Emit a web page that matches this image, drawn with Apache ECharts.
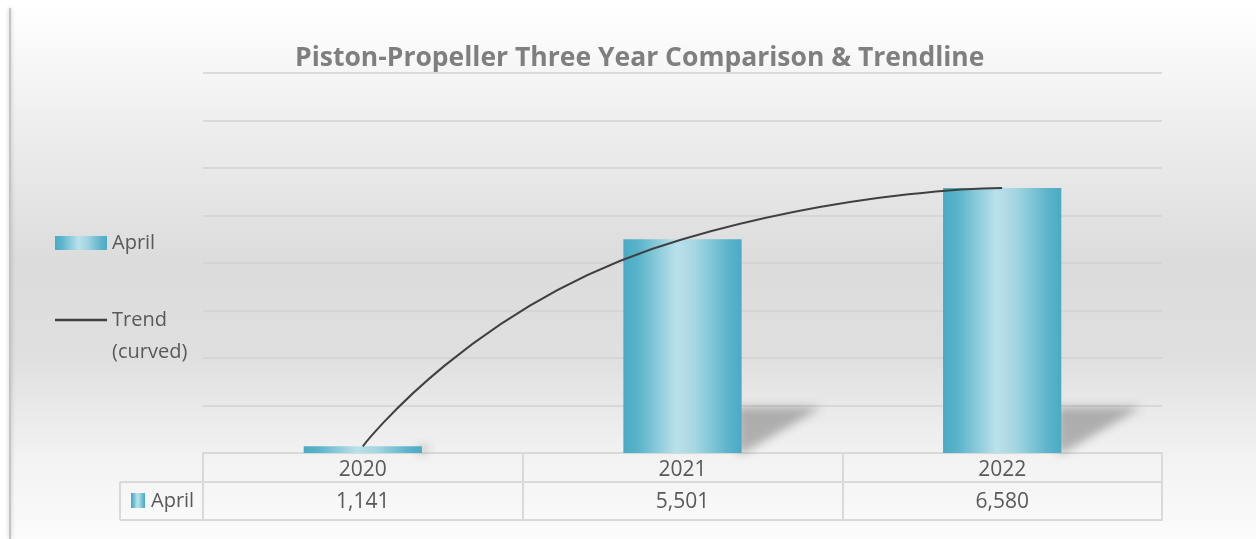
<!DOCTYPE html>
<html>
<head>
<meta charset="utf-8">
<script src="https://cdn.jsdelivr.net/npm/echarts@6/dist/echarts.min.js"></script>
<style>
  html, body { margin: 0; padding: 0; background: #fff; }
  #chart { width: 1256px; height: 539px; }
</style>
</head>
<body>
<div id="chart"></div>
<script>
var years = ["2020", "2021", "2022"];
var aprilValues = [1141, 5501, 6580];
var yMin = 1000;
var yMax = 9000;
var yStep = 1000;

var textColor = "#595959";
var tableLine = "#d9d9d9";
var fontFamily = "'Open Sans', 'Noto Sans', sans-serif";

// cylinder-like horizontal gradient of the bars
var barGradient = new echarts.graphic.LinearGradient(0, 0, 1, 0, [
  { offset: 0, color: "#4aabc4" },
  { offset: 0.12, color: "#58b3ca" },
  { offset: 0.45, color: "#bae1eb" },
  { offset: 0.62, color: "#a3d5e1" },
  { offset: 0.88, color: "#5db5cb" },
  { offset: 1, color: "#4aabc4" }
]);

function fmt(v) {
  return v.toLocaleString("en-US");
}

var myChart = echarts.init(document.getElementById("chart"));

var option = {
  backgroundColor: "#ffffff",
  animation: false,
  title: {
    text: "Piston-Propeller Three Year Comparison & Trendline",
    left: 290,
    top: 40,
    textStyle: {
      fontFamily: fontFamily,
      fontSize: 26.5,
      fontWeight: "bold",
      color: "#7f7f7f"
    }
  },
  legend: {
    orient: "vertical",
    left: 55,
    top: 227,
    padding: 0,
    itemWidth: 52,
    itemHeight: 14,
    itemGap: 13,
    data: [
      { name: "April", icon: "rect" },
      { name: "Trend (curved)", icon: "path://M0,0 L52,0 L52,2.5 L0,2.5 Z" }
    ],
    // empty first line keeps "Trend" level with the line icon
    formatter: function (name) {
      return name === "Trend (curved)" ? "\nTrend\n(curved)" : name;
    },
    textStyle: {
      fontFamily: fontFamily,
      fontSize: 20,
      color: textColor,
      lineHeight: 32
    }
  },
  grid: {
    left: 203,
    right: 94,
    top: 73,
    bottom: 86
  },
  xAxis: [
    {
      type: "category",
      data: years,
      position: "bottom",
      axisLine: { show: true, lineStyle: { color: tableLine, width: 2 } },
      axisTick: { show: true, length: 67, lineStyle: { color: tableLine, width: 2 } },
      axisLabel: {
        margin: 7,
        fontFamily: fontFamily,
        fontSize: 21,
        color: textColor
      }
    },
    {
      type: "category",
      data: aprilValues.map(fmt),
      position: "bottom",
      offset: 29,
      axisLine: { show: true, lineStyle: { color: tableLine, width: 2 } },
      axisTick: { show: false },
      axisLabel: {
        margin: 10,
        fontFamily: fontFamily,
        fontSize: 21,
        color: textColor
      }
    },
    {
      type: "category",
      data: years,
      position: "bottom",
      offset: 67,
      axisLine: { show: true, lineStyle: { color: tableLine, width: 2 } },
      axisTick: { show: false },
      axisLabel: { show: false }
    }
  ],
  yAxis: {
    type: "value",
    min: yMin,
    max: yMax,
    interval: yStep,
    axisLine: { show: false },
    axisTick: { show: false },
    axisLabel: { show: false },
    splitLine: { lineStyle: { color: "#d2d2d2", width: 1.5 } }
  },
  series: [
    {
      // perspective shadow behind the bars: the shape is drawn off screen
      // and only its blurred shadow is moved back next to the bar
      type: "custom",
      name: "shadow",
      z: 1,
      silent: true,
      clip: false,
      data: aprilValues.map(function (v, i) { return [i, v]; }),
      renderItem: function (params, api) {
        var top = api.coord([api.value(0), api.value(1)]);
        var base = api.coord([api.value(0), yMin]);
        var bw = api.size([1, 0])[0] * 0.37;
        var x0 = base[0] + bw / 2 - 4;
        var h = Math.min(base[1] - top[1], 46);
        var w = 84 * h / 46;
        var shift = 3000;
        return {
          type: "polygon",
          shape: {
            points: [
              [x0 - shift, base[1]],
              [x0 - shift, base[1] - h],
              [x0 + w - shift, base[1] - h],
              [x0 + 6 - shift, base[1]]
            ]
          },
          style: {
            fill: "#000",
            shadowBlur: 10,
            shadowColor: "rgba(80,80,80,0.4)",
            shadowOffsetX: shift,
            shadowOffsetY: 0
          }
        };
      }
    },
    {
      type: "bar",
      name: "April",
      data: aprilValues,
      barWidth: "37%",
      z: 2,
      itemStyle: { color: barGradient }
    },
    {
      type: "line",
      name: "Trend (curved)",
      data: aprilValues,
      smooth: 0.6,
      symbol: "none",
      z: 3,
      lineStyle: { color: "#404040", width: 2 },
      itemStyle: { color: "#404040" }
    }
  ],
  graphic: [
    {
      type: "rect",
      z: -10,
      shape: { x: 10, y: 8, width: 1260, height: 560 },
      style: {
        fill: new echarts.graphic.LinearGradient(0, 0, 0, 1, [
          { offset: 0, color: "#ffffff" },
          { offset: 0.15, color: "#f3f3f3" },
          { offset: 0.45, color: "#dcdcdc" },
          { offset: 0.62, color: "#dfdfdf" },
          { offset: 0.8, color: "#f2f2f2" },
          { offset: 1, color: "#ffffff" }
        ])
      }
    },
    {
      type: "line",
      z: -9,
      shape: { x1: 10, y1: 8, x2: 10, y2: 539 },
      style: { stroke: "#c4c4c4", lineWidth: 2, shadowBlur: 4, shadowColor: "rgba(0,0,0,0.25)" }
    },
    // left cell of the data table
    {
      type: "line",
      z: 10,
      shape: { x1: 120, y1: 482, x2: 203, y2: 482 },
      style: { stroke: tableLine, lineWidth: 2 }
    },
    {
      type: "line",
      z: 10,
      shape: { x1: 120, y1: 520, x2: 203, y2: 520 },
      style: { stroke: tableLine, lineWidth: 2 }
    },
    {
      type: "line",
      z: 10,
      shape: { x1: 120, y1: 482, x2: 120, y2: 520 },
      style: { stroke: tableLine, lineWidth: 2 }
    },
    {
      type: "rect",
      z: 10,
      shape: { x: 131, y: 493, width: 14, height: 15 },
      style: { fill: barGradient }
    },
    {
      type: "text",
      z: 10,
      style: {
        x: 151,
        y: 501,
        text: "April",
        fontFamily: fontFamily,
        fontSize: 20,
        fill: textColor,
        verticalAlign: "middle"
      }
    }
  ]
};

myChart.setOption(option);
</script>
</body>
</html>
